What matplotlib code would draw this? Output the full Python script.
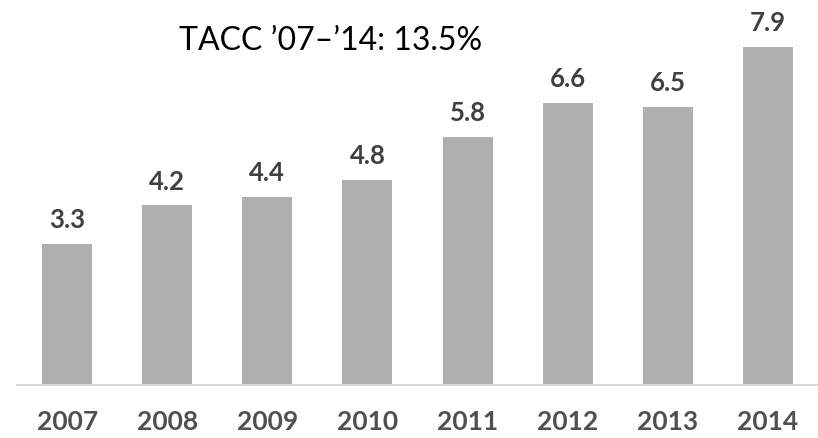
import numpy as np
import matplotlib.pyplot as plt

plt.rcParams['font.family'] = ['Lato', 'DejaVu Sans']

# données
annees = ['2007', '2008', '2009', '2010', '2011', '2012', '2013', '2014']
valeurs = [3.3, 4.2, 4.4, 4.8, 5.8, 6.6, 6.5, 7.9]
titre = 'TACC \u201907\u2013\u201914: 13.5%'

fig = plt.figure(figsize=(8.18, 4.39), dpi=100)
ax = fig.add_axes([17 / 818, 53 / 439, 801 / 818, 386 / 439])

x = np.arange(len(annees))
barres = ax.bar(x, valeurs, width=0.5, color='#AFAFAF', zorder=2)

for xi, v in zip(x, valeurs):
    ax.annotate(f'{v:.1f}', (xi, v), xytext=(0, 9), textcoords='offset points',
                ha='center', va='bottom', fontsize=18.5, fontweight='bold',
                color='#404040')

ax.text(2.63, 8.07, titre, ha='center', va='center', fontsize=23, color='black')

ax.set_xlim(-0.5, 7.5)
ax.set_ylim(0, 9.02)
ax.set_xticks(x)
ax.set_xticklabels(annees, fontsize=19, fontweight='bold', color='#505050')
ax.tick_params(axis='x', length=0, pad=17)
ax.set_yticks([])
for s in ['top', 'right', 'left']:
    ax.spines[s].set_visible(False)
ax.spines['bottom'].set_color('#D9D9D9')
ax.spines['bottom'].set_linewidth(1.5)

fig.savefig('out.png', dpi=100)
